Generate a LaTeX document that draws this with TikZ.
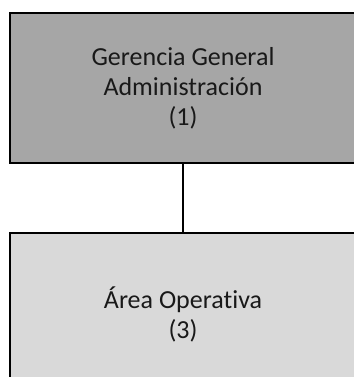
\documentclass[tikz,border=0pt]{standalone}
\usepackage{fontspec}
\setmainfont[Ligatures={NoCommon,NoRare}]{Carlito}
\definecolor{darkbox}{HTML}{A6A6A6}
\definecolor{lightbox}{HTML}{D9D9D9}
\tikzset{
  orgbox/.style={draw=black, line width=1.8bp, minimum width=346bp, align=center,
    font=\fontsize{26bp}{30bp}\selectfont, text=black!90, inner sep=0pt},
  link/.style={draw=black, line width=1.8bp}
}
\begin{document}
\begin{tikzpicture}[x=1bp,y=-1bp]
\useasboundingbox (0,0) rectangle (354,377);
\clip (0,0) rectangle (354,377);
\fill[white] (0,0) rectangle (354,377);
\node[orgbox, fill=darkbox, minimum height=150bp] (gg) at (183,88) {Gerencia General\\Administración\\(1)};
\node[orgbox, fill=lightbox, minimum height=162bp] (ao) at (183,314) {Área Operativa\\(3)};
\draw[link] (gg.south) -- (ao.north);
\end{tikzpicture}
\end{document}
